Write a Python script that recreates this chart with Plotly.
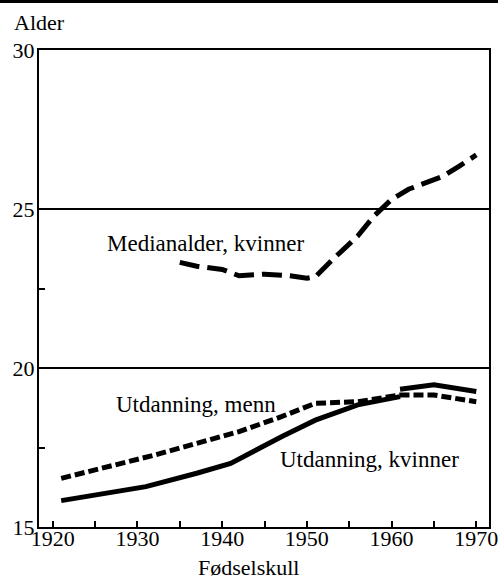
import plotly.graph_objects as go

# Median age at first birth (women) and age at end of education, by birth cohort
median_years = [1935, 1937, 1940, 1942, 1945, 1948, 1950, 1951, 1953, 1956,
                1958, 1960, 1962, 1964, 1966, 1968, 1970]
median_women = [23.32, 23.2, 23.1, 22.9, 22.95, 22.9, 22.82, 22.87, 23.4, 24.15,
                24.8, 25.3, 25.62, 25.8, 26.02, 26.35, 26.7]

edu_men_years = [1921, 1932, 1942, 1947, 1951, 1956, 1961, 1965, 1970]
edu_men = [16.53, 17.26, 18.0, 18.47, 18.89, 18.94, 19.15, 19.15, 18.94]

edu_women_years_a = [1921, 1931, 1937, 1941, 1947, 1951, 1956, 1961]
edu_women_a = [15.83, 16.27, 16.69, 17.0, 17.84, 18.36, 18.84, 19.1]
edu_women_years_b = [1961, 1965, 1970]
edu_women_b = [19.33, 19.47, 19.26]

_FONT = "Liberation Serif, Times New Roman, serif"
_INK = "#000000"

fig = go.Figure()
fig.add_trace(go.Scatter(x=median_years, y=median_women, mode="lines",
                         line={"color": _INK, "width": 5, "dash": "20px,8px"}))
fig.add_trace(go.Scatter(x=edu_men_years, y=edu_men, mode="lines",
                         line={"color": _INK, "width": 5, "dash": "10px,4px"}))
fig.add_trace(go.Scatter(x=edu_women_years_a, y=edu_women_a, mode="lines",
                         line={"color": _INK, "width": 5}))
fig.add_trace(go.Scatter(x=edu_women_years_b, y=edu_women_b, mode="lines",
                         line={"color": _INK, "width": 5}))

for text, x, y in (
    ("Medianalder, kvinner", 1926.2, 23.93),
    ("Utdanning, menn", 1927.2, 18.84),
    ("Utdanning, kvinner", 1946.6, 17.11),
):
    fig.add_annotation(x=x, y=y, text=text, showarrow=False,
                       xanchor="left", yanchor="middle",
                       font={"size": 23, "color": _INK, "family": _FONT})

fig.add_annotation(x=-0.059, y=1.057, xref="paper", yref="paper", text="Alder",
                   showarrow=False, xanchor="left", yanchor="middle",
                   font={"size": 22, "color": _INK, "family": _FONT})
fig.add_annotation(x=0.466, y=-0.084, xref="paper", yref="paper", text="Fødselskull",
                   showarrow=False, xanchor="center", yanchor="middle",
                   font={"size": 22, "color": _INK, "family": _FONT})

# scanned page border at the very top
fig.add_shape(type="rect", xref="paper", yref="paper",
              x0=-0.09, x1=1.02, y0=1.0985, y1=1.105,
              fillcolor=_INK, line={"width": 0})

fig.update_layout(
    width=504, height=579,
    paper_bgcolor="white", plot_bgcolor="white",
    showlegend=False,
    margin={"l": 39, "r": 6, "t": 50, "b": 52},
    font={"family": _FONT, "color": _INK, "size": 22},
    xaxis={
        "range": [1918.38, 1971.5],
        "tickvals": [1920, 1930, 1940, 1950, 1960, 1970],
        "ticks": "inside", "ticklen": 6, "tickwidth": 2, "tickcolor": _INK,
        "minor": {"tickvals": [1925, 1935, 1945, 1955, 1965],
                  "ticks": "inside", "ticklen": 6, "tickwidth": 2, "tickcolor": _INK},
        "ticklabelstandoff": -9, "ticklabeloverflow": "allow",
        "showgrid": False, "zeroline": False,
        "showline": True, "linecolor": _INK, "linewidth": 2, "mirror": True,
        "tickfont": {"size": 22},
    },
    yaxis={
        "range": [15, 30],
        "tickvals": [15, 20, 25, 30],
        "ticks": "", "ticklabelstandoff": -2,
        "minor": {"tickvals": [17.5, 22.5],
                  "ticks": "inside", "ticklen": 6, "tickwidth": 2, "tickcolor": _INK},
        "showgrid": True, "gridcolor": _INK, "gridwidth": 1.5,
        "zeroline": False,
        "showline": True, "linecolor": _INK, "linewidth": 2, "mirror": True,
        "tickfont": {"size": 22},
    },
)

fig.write_html("out.html", config={"displayModeBar": False},
               post_script="document.body.style.margin = '0';")
